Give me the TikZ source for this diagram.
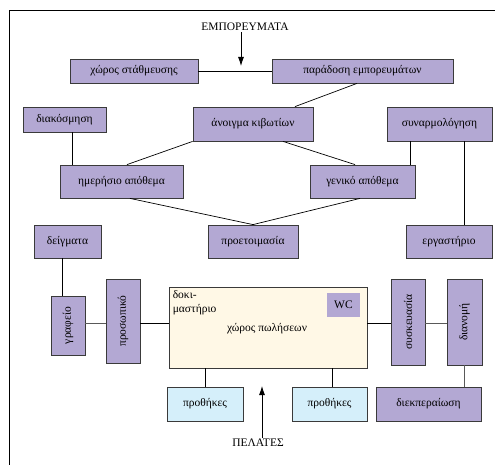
\documentclass[tikz,border=0pt]{standalone}
\usepackage{fontspec}
\setmainfont{Liberation Serif}
\usetikzlibrary{arrows.meta}

\definecolor{boxpurple}{HTML}{B3A8D3}
\definecolor{boxblue}{HTML}{D5EFFA}
\definecolor{shopcream}{HTML}{FFF8E6}
\definecolor{edgegray}{HTML}{3A3A3A}

\begin{document}
\begin{tikzpicture}[x=1pt, y=-1pt,
    box/.style={draw=edgegray, fill=boxpurple, line width=0.8pt, inner sep=0pt,
                font=\fontsize{11.5}{13.5}\selectfont},
    vbox/.style={box, rotate=90},
    shelf/.style={box, fill=boxblue},
    label/.style={inner sep=1pt, font=\fontsize{11.5}{13.5}\selectfont},
    link/.style={line width=0.7pt},
    glink/.style={line width=0.9pt, draw=gray!70!black},
    pointer/.style={line width=0.8pt, -{Latex[length=9pt, width=6pt]}}]
          \useasboundingbox (0,0) rectangle (495,465);
          \draw[line width=0.9pt] (9,465) -- (9,10) -- (495,10);

          % top row
          \node[label](goods)      at (245,27)      {ΕΜΠΟΡΕΥΜΑΤΑ};
          \node[box, minimum width=128pt, minimum height=24pt](parking)   at (134,71)      {χώρος στάθμευσης};
          \node[box, minimum width=181pt, minimum height=24pt](delivery)  at (362.5,71)    {παράδοση εμπορευμάτων};
          \coordinate (goodsend) at (241,66);

          % second row
          \node[box, minimum width=83pt,  minimum height=25pt](deco)      at (64.5,119.5)  {διακόσμηση};
          \node[box, minimum width=120pt, minimum height=34pt](opening)   at (253,124)     {άνοιγμα κιβωτίων};
          \node[box, minimum width=105pt, minimum height=34pt](assembly)  at (439.5,124)   {συναρμολόγηση};

          % stores
          \node[box, minimum width=123pt, minimum height=33pt](daily)     at (121.5,181.5) {ημερήσιο απόθεμα};
          \node[box, minimum width=105pt, minimum height=33pt](general)   at (362.5,181.5) {γενικό απόθεμα};

          \node[box, minimum width=67pt,  minimum height=33pt](samples)   at (67.5,241.5)  {δείγματα};
          \node[box, minimum width=90pt,  minimum height=33pt](prep)      at (253,241.5)   {προετοιμασία};
          \node[box, minimum width=86pt,  minimum height=33pt](workshop)  at (449,241.5)   {εργαστήριο};

          % upright boxes
          \node[vbox, minimum width=59pt, minimum height=34pt](office)    at (68,325.5)    {γραφείο};
          \node[vbox, minimum width=84pt, minimum height=34pt](staff)     at (123,321)     {προσωπικό};
          \node[vbox, minimum width=86pt, minimum height=34pt](packing)   at (408,322)     {συσκευασία};
          \node[vbox, minimum width=86pt, minimum height=35pt](distrib)   at (464.5,322)   {διανομή};

          % shop
          \node[box, fill=shopcream, minimum width=198pt, minimum height=81pt](shop) at (268,327.5) {};
          \node[label, anchor=north west, align=left](lab) at ([shift={(3pt,-3pt)}]shop.north west) {δοκι-\\μαστήριο};
          \node[label](sales)      at (267,329)     {χώρος πωλήσεων};
          \node[box, draw=none, minimum width=33pt, minimum height=24pt](wc) at (343.5,305) {WC};

          % bottom row
          \node[shelf, minimum width=76pt,  minimum height=34pt](shelves1) at (205,404)    {προθήκες};
          \node[shelf, minimum width=75pt,  minimum height=34pt](shelves2) at (329.5,404)  {προθήκες};
          \node[box,   minimum width=105pt, minimum height=34pt](dispatch) at (428.5,404)  {διεκπεραίωση};
          \node[label](customers)  at (258,443)     {ΠΕΛΑΤΕΣ};
          \coordinate (custend) at (262,386);

        \draw[pointer] (goods.south -| goodsend) -- (goodsend);
        \draw[pointer] (customers.north -| custend) -- (custend);
        \draw[link] (parking.east) -- (delivery.west);
        \draw[link] ([xshift=-5.5pt]delivery.south) -- ([xshift=42pt]opening.north);
        \draw[link] ([xshift=7.5pt]deco.south) -- ([xshift=7.5pt]deco.south |- daily.north);
        \draw[link] (opening.south west) -- ([xshift=5.5pt]daily.north);
        \draw[link] ([xshift=30pt]opening.south) -- ([xshift=-7.5pt]general.north);
        \draw[link] ([xshift=8.5pt]daily.south) -- (prep.north);
        \draw[link] ([xshift=-2.5pt]general.south) -- (prep.north);
        \draw[link] ([xshift=-29.5pt]assembly.south) -- ([xshift=-29.5pt]assembly.south |- general.north);
        \draw[link] ([xshift=24.5pt]assembly.south) -- ([xshift=24.5pt]assembly.south |- workshop.north);
        \draw[link] ([xshift=-5.5pt]samples.south) -- ([xshift=-5.5pt]samples.south |- office.east);
        \draw[glink] ([yshift=2.5pt]office.south) -- ([yshift=2.5pt]office.south -| staff.north);
        \draw[link] ([yshift=-2pt]staff.south) -- ([yshift=-2pt]staff.south -| shop.west);
        \draw[link] ([yshift=4.5pt]shop.east) -- ([yshift=4.5pt]shop.east -| packing.north);
        \draw[glink] ([yshift=-1pt]packing.south) -- ([yshift=-1pt]packing.south -| distrib.north);
        \draw[glink] (distrib.west) -- (distrib.west |- dispatch.north);
        \draw[link] (shelves1.north |- shop.south) -- (shelves1.north);
        \draw[link] ([xshift=2.5pt]shelves2.north |- shop.south) -- ([xshift=2.5pt]shelves2.north);
      \end{tikzpicture}
\end{document}
